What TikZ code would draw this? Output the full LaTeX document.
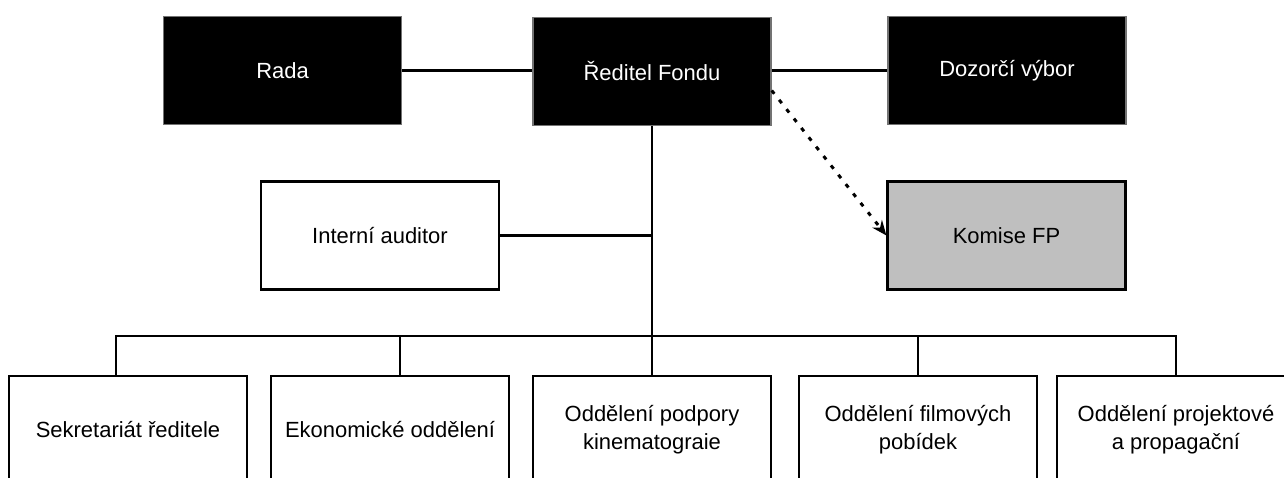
\documentclass[tikz,border=0pt]{standalone}
\usepackage{fontspec}
\setmainfont{Liberation Sans}
\usetikzlibrary{arrows.meta}
\tikzset{
  unit/.style={draw, line width=1.3pt, minimum width=4.76cm, minimum height=2.16cm,
    inner sep=0pt, align=center, font=\fontsize{12.5}{16}\selectfont},
  boss/.style={unit, fill=black, draw=black!55, line width=0.8pt, text=white},
  dept/.style={unit, fill=white},
  board/.style={unit, fill=black!25},
  link/.style={line width=1.3pt},
  hint/.style={line width=1.7pt, dash pattern=on 2.4pt off 4.4pt,
    -{Stealth[length=8.5pt, width=7pt]}},
}

\begin{document}
\begin{tikzpicture}[x=0.02cm, y=-0.02cm]
  \useasboundingbox (0,0) rectangle (1284,477);
  \clip (0,0) rectangle (1284,477);
  \node[boss] (rada) at (282.5,70.5) {Rada};
  \node[boss] (reditel) at (652,71.5) {Ředitel Fondu};
  \node[boss] (dozor) at (1007,70.5) {Dozorčí výbor};
  \node[dept] (auditor) at (380,235.5) {Interní auditor};
  \node[board] (komise) at (1006.5,235.5) {Komise FP};
  \node[dept] (sekr) at (128,430) {Sekretariát ředitele};
  \node[dept] (ekon) at (390,430) {Ekonomické oddělení};
  \node[dept] (podp) at (652,430) {Oddělení podpory\\kinematograie};
  \node[dept] (film) at (918,430) {Oddělení filmových\\pobídek};
  \node[dept] (proj) at (1176,430) {Oddělení projektové\\a propagační};
  \coordinate (bus) at (652,336);
  \draw[link] (rada.east) -- (rada.east -| reditel.west);
  \draw[link] (reditel.east |- dozor.west) -- (dozor.west);
  \draw[link] (reditel.south) -- (podp.north);
  \draw[link] (auditor.east) -- (auditor.east -| reditel.south);
  \draw[link] ([xshift=-0.24cm]sekr.north) |- (bus) -| (proj.north);
  \draw[link] ([xshift=0.2cm]ekon.north) |- (bus);
  \draw[link] (film.north) |- (bus);
  \draw[hint] (reditel.-9.5) -- (komise.west);
\end{tikzpicture}
\end{document}
